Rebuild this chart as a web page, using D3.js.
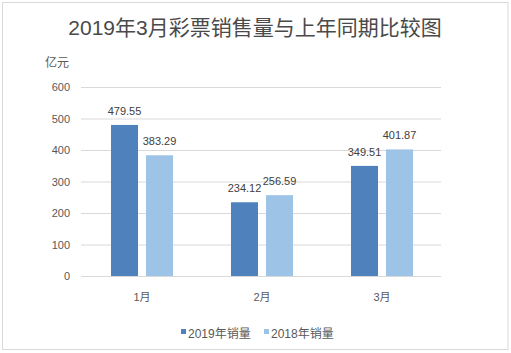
<!DOCTYPE html>
<html><head><meta charset="utf-8">
<script src="https://cdn.jsdelivr.net/npm/d3@7"></script>
<style>html,body{margin:0;padding:0;background:#fff;}</style>
</head><body>
<svg id="c" width="511" height="353"></svg>
<script>
const categories = ["1月", "2月", "3月"];
const seriesNames = ["2019年销量", "2018年销量"];
const sales2019 = [479.55, 234.12, 349.51];
const sales2018 = [383.29, 256.59, 401.87];
const yTicks = [0, 100, 200, 300, 400, 500, 600];
const title = "2019年3月彩票销售量与上年同期比较图";
const unitLabel = "亿元";
const colors = ["#4F81BD", "#9DC3E6"];

const font = "'Liberation Sans', Arial, 'Noto Sans CJK SC', sans-serif";
const svg = d3.select("#c");

svg.append("rect").attr("x", 2.5).attr("y", 2.5).attr("width", 505.5).attr("height", 347)
  .attr("fill", "#fff").attr("stroke", "#d9d9d9").attr("stroke-width", 1);

svg.append("text").attr("x", 255).attr("y", 35).attr("text-anchor", "middle")
  .attr("font-family", font).attr("font-size", 21).attr("fill", "#4a4a4a").text(title);

const x0 = d3.scaleBand().domain(categories).range([82, 442]).paddingInner(0.4833).paddingOuter(0.2417);
const x1 = d3.scaleBand().domain(seriesNames).range([0, x0.bandwidth()]).paddingInner(8/35).paddingOuter(0);
const y = d3.scaleLinear().domain([0, 600]).range([276, 87]);

// gridlines
const yAxis = d3.axisLeft(y).tickValues(yTicks).tickSize(-(441 - 81)).tickPadding(11);
const gy = svg.append("g").attr("transform", "translate(81,0)").call(yAxis);
gy.select(".domain").remove();
gy.selectAll(".tick line").attr("stroke", "#d9d9d9").attr("stroke-width", 1);
gy.selectAll(".tick text").attr("font-family", font).attr("font-size", 11).attr("fill", "#595959");

svg.append("text").attr("x", 45).attr("y", 67).attr("font-family", font).attr("font-size", 12)
  .attr("fill", "#595959").text(unitLabel);

// bars
const data = categories.map((c, i) => ({cat: c, vals: [sales2019[i], sales2018[i]]}));
const groups = svg.append("g").selectAll("g").data(data).join("g")
  .attr("transform", d => `translate(${x0(d.cat)},0)`);
groups.selectAll("rect").data(d => d.vals.map((v, j) => ({s: seriesNames[j], v, j}))).join("rect")
  .attr("x", d => x1(d.s)).attr("width", x1.bandwidth())
  .attr("y", d => y(d.v)).attr("height", d => y(0) - y(d.v))
  .attr("fill", d => colors[d.j]);
groups.selectAll("text").data(d => d.vals.map((v, j) => ({s: seriesNames[j], v, j}))).join("text")
  .attr("x", d => x1(d.s) + x1.bandwidth() / 2).attr("y", d => y(d.v) - 10)
  .attr("text-anchor", "middle").attr("font-family", font).attr("font-size", 11)
  .attr("fill", "#404040").text(d => d.v.toFixed(2));

// x axis
const xAxis = d3.axisBottom(x0).tickSize(0).tickPadding(17);
const gx = svg.append("g").attr("transform", "translate(0,276)").call(xAxis);
gx.select(".domain").attr("stroke", "#d9d9d9").attr("d", "M81,0.5H441");
gx.selectAll(".tick text").attr("font-family", font).attr("font-size", 11).attr("fill", "#595959");

// legend
const legX = [181, 264];
const leg = svg.append("g").selectAll("g").data(seriesNames).join("g")
  .attr("transform", (d, i) => `translate(${legX[i]},329)`);
leg.append("rect").attr("width", 5).attr("height", 5).attr("fill", (d, i) => colors[i]);
leg.append("text").attr("x", 7).attr("y", 8.5).attr("font-family", font).attr("font-size", 12)
  .attr("fill", "#595959").text(d => d);
</script>
</body></html>
